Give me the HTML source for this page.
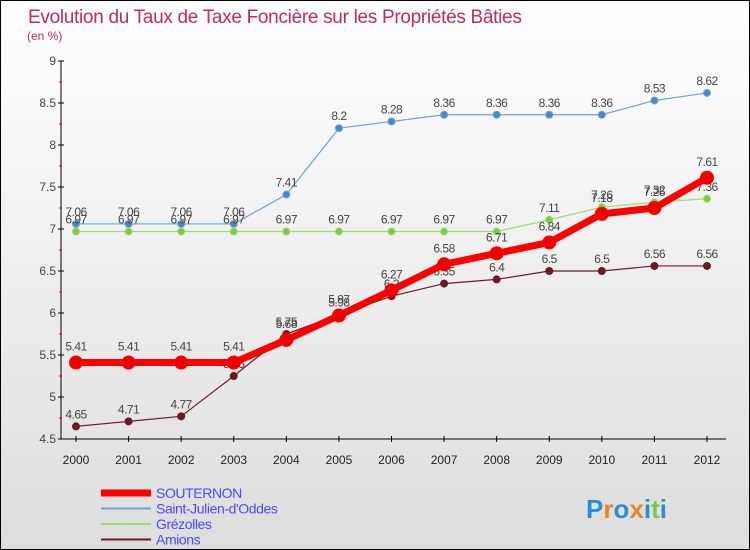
<!DOCTYPE html>
<html><head><meta charset="utf-8"><style>
body{margin:0}
#wrap{width:750px;height:550px;position:relative;overflow:hidden;box-sizing:border-box;border:1px solid #000;background:linear-gradient(#fff,#ddd);font-family:"Liberation Sans",sans-serif}
</style></head><body>
<div id="wrap">
<svg id="chart" width="750" height="550"></svg>
</div>
<script>
const years=[2000,2001,2002,2003,2004,2005,2006,2007,2008,2009,2010,2011,2012];
const souternon=[5.41,5.41,5.41,5.41,5.68,5.97,6.27,6.58,6.71,6.84,7.18,7.25,7.61];
const stJulien=[7.06,7.06,7.06,7.06,7.41,8.2,8.28,8.36,8.36,8.36,8.36,8.53,8.62];
const grezolles=[6.97,6.97,6.97,6.97,6.97,6.97,6.97,6.97,6.97,7.11,7.26,7.32,7.36];
const amions=[4.65,4.71,4.77,5.25,5.75,5.98,6.2,6.35,6.4,6.5,6.5,6.56,6.56];
const yTicks=[4.5,5,5.5,6,6.5,7,7.5,8,8.5,9];
const NS="http://www.w3.org/2000/svg";
const svg=document.getElementById('chart');
const X=i=>75+i*(706-75)/(years.length-1);
const Y=v=>438-(v-4.5)*(438-60)/4.5;
function mk(t,a,p){const e=document.createElementNS(NS,t);for(const k in a)e.setAttribute(k,a[k]);(p||svg).appendChild(e);return e;}
let t=mk('text',{x:27,y:22,'font-size':19,fill:'#c8285a','letter-spacing':'-0.3'});t.textContent='Evolution du Taux de Taxe Foncière sur les Propriétés Bâties';

t=mk('text',{x:26,y:39,'font-size':12,fill:'#c8285a'});t.textContent='(en %)';

let a=mk('line',{x1:60,y1:60,x2:60,y2:438,stroke:'#000'});
a=mk('line',{x1:60,y1:438,x2:725,y2:438,stroke:'#000'});
yTicks.forEach((v,i)=>{mk('line',{x1:57,x2:63,y1:Y(v),y2:Y(v),stroke:'#000'});
 if(i<yTicks.length-1)mk('line',{x1:58,x2:61,y1:Y(v+0.25),y2:Y(v+0.25),stroke:'#e00'});
 const l=mk('text',{x:55,y:Y(v)+4,'font-size':12,fill:'#444','text-anchor':'end'});l.textContent=v;
 });
years.forEach((yr,i)=>{mk('line',{x1:X(i),x2:X(i),y1:435,y2:441,stroke:'#000'});
 const l=mk('text',{x:X(i),y:463,'font-size':12,fill:'#222','text-anchor':'middle'});l.textContent=yr;
 });
function series(vals,color,w,r,name,dot,labelDy){
 const g=mk('g',{});
 mk('polyline',{points:vals.map((v,i)=>X(i)+','+Y(v)).join(' '),fill:'none',stroke:color,'stroke-width':w,'stroke-linejoin':'round'},g);
 vals.forEach((v,i)=>{const c=mk('circle',{cx:X(i),cy:Y(v),r:r,fill:dot,stroke:color,'stroke-width':1},g);
  
  const l=mk('text',{x:X(i),y:Y(v)-labelDy,'font-size':12,fill:'#444','text-anchor':'middle','letter-spacing':'-0.5'},g);l.textContent=v;});
}
series(stJulien,'#6fa3d6',1.2,3.5,'saint-julien-series','#4a86c8',8);
series(grezolles,'#9fdc6b',1.2,3.5,'grezolles-series','#7cc84a',8);
series(amions,'#6b1b22',1.2,3.5,'amions-series','#6b1b22',8);
series(souternon,'#ff0000',7,6.5,'souternon-series','#ee0000',12);
const legend=[['SOUTERNON','#ff0000',7],['Saint-Julien-d\'Oddes','#6fa3d6',2],['Grézolles','#9fdc6b',2],['Amions','#6b1b22',2]];
legend.forEach((d,i)=>{const y=492+i*15.5;const g=mk('g',{});
 mk('line',{x1:100,x2:150,y1:y,y2:y,stroke:d[1],'stroke-width':d[2]},g);
 const l=mk('text',{x:155,y:y+5,'font-size':14,fill:'#4a4aff','letter-spacing':'-0.4'},g);l.textContent=d[0];});
t=mk('text',{x:585,y:517,'font-size':26,'font-weight':'bold'});

[['P','#2a8fd0'],['r','#f08020'],['o','#2a8fd0'],['x','#f08020'],['i','#2a8fd0'],['t','#7cc84a'],['i','#2a8fd0']].forEach(c=>{const s=mk('tspan',{fill:c[1]},t);s.textContent=c[0];});
</script>
</body></html>
